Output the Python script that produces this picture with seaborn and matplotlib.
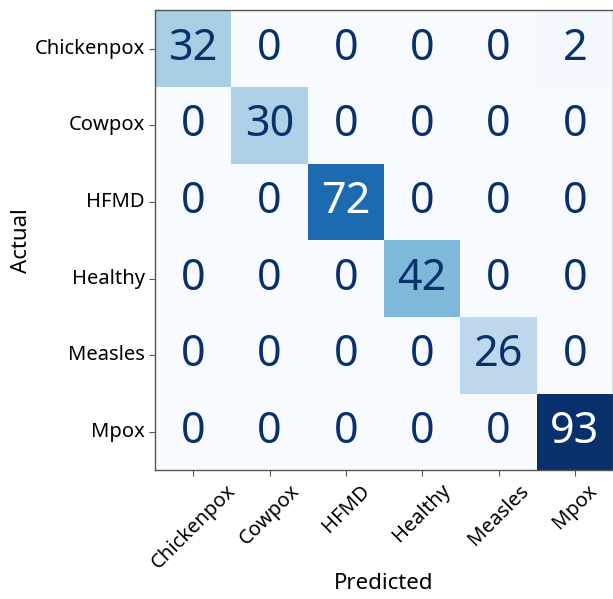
import numpy as np
import seaborn as sns
import matplotlib.pyplot as plt

# class names and confusion matrix counts (rows = actual, cols = predicted)
classes = ['Chickenpox', 'Cowpox', 'HFMD', 'Healthy', 'Measles', 'Mpox']
row_chickenpox = [32, 0, 0, 0, 0, 2]
row_cowpox = [0, 30, 0, 0, 0, 0]
row_hfmd = [0, 0, 72, 0, 0, 0]
row_healthy = [0, 0, 0, 42, 0, 0]
row_measles = [0, 0, 0, 0, 26, 0]
row_mpox = [0, 0, 0, 0, 0, 93]

cm = np.array([row_chickenpox, row_cowpox, row_hfmd,
               row_healthy, row_measles, row_mpox])

plt.rcParams['font.family'] = ['Noto Sans', 'DejaVu Sans']

fig = plt.figure(figsize=(6.13, 5.99), dpi=100)
ax = fig.add_axes([0.253, 0.215, 0.747, 0.768])

sns.heatmap(cm, annot=True, fmt='d', cmap='Blues', cbar=False,
            xticklabels=classes, yticklabels=classes,
            annot_kws={'fontsize': 31}, ax=ax)

# navy text on light cells, white on dark ones
for txt in ax.texts:
    v = int(txt.get_text())
    txt.set_color('white' if v > 60 else '#08306b')

for side in ['left', 'top', 'bottom', 'right']:
    ax.spines[side].set_visible(True)
    ax.spines[side].set_color('#555555')
    ax.spines[side].set_linewidth(1.0)

ax.tick_params(axis='both', length=4, color='#555555', labelsize=14.5)
plt.xticks(rotation=45)
plt.yticks(rotation=0)
ax.set_xlabel('Predicted', fontsize=16, labelpad=0)
ax.set_ylabel('Actual', fontsize=16, labelpad=2)

plt.savefig('out.png', dpi=100)
